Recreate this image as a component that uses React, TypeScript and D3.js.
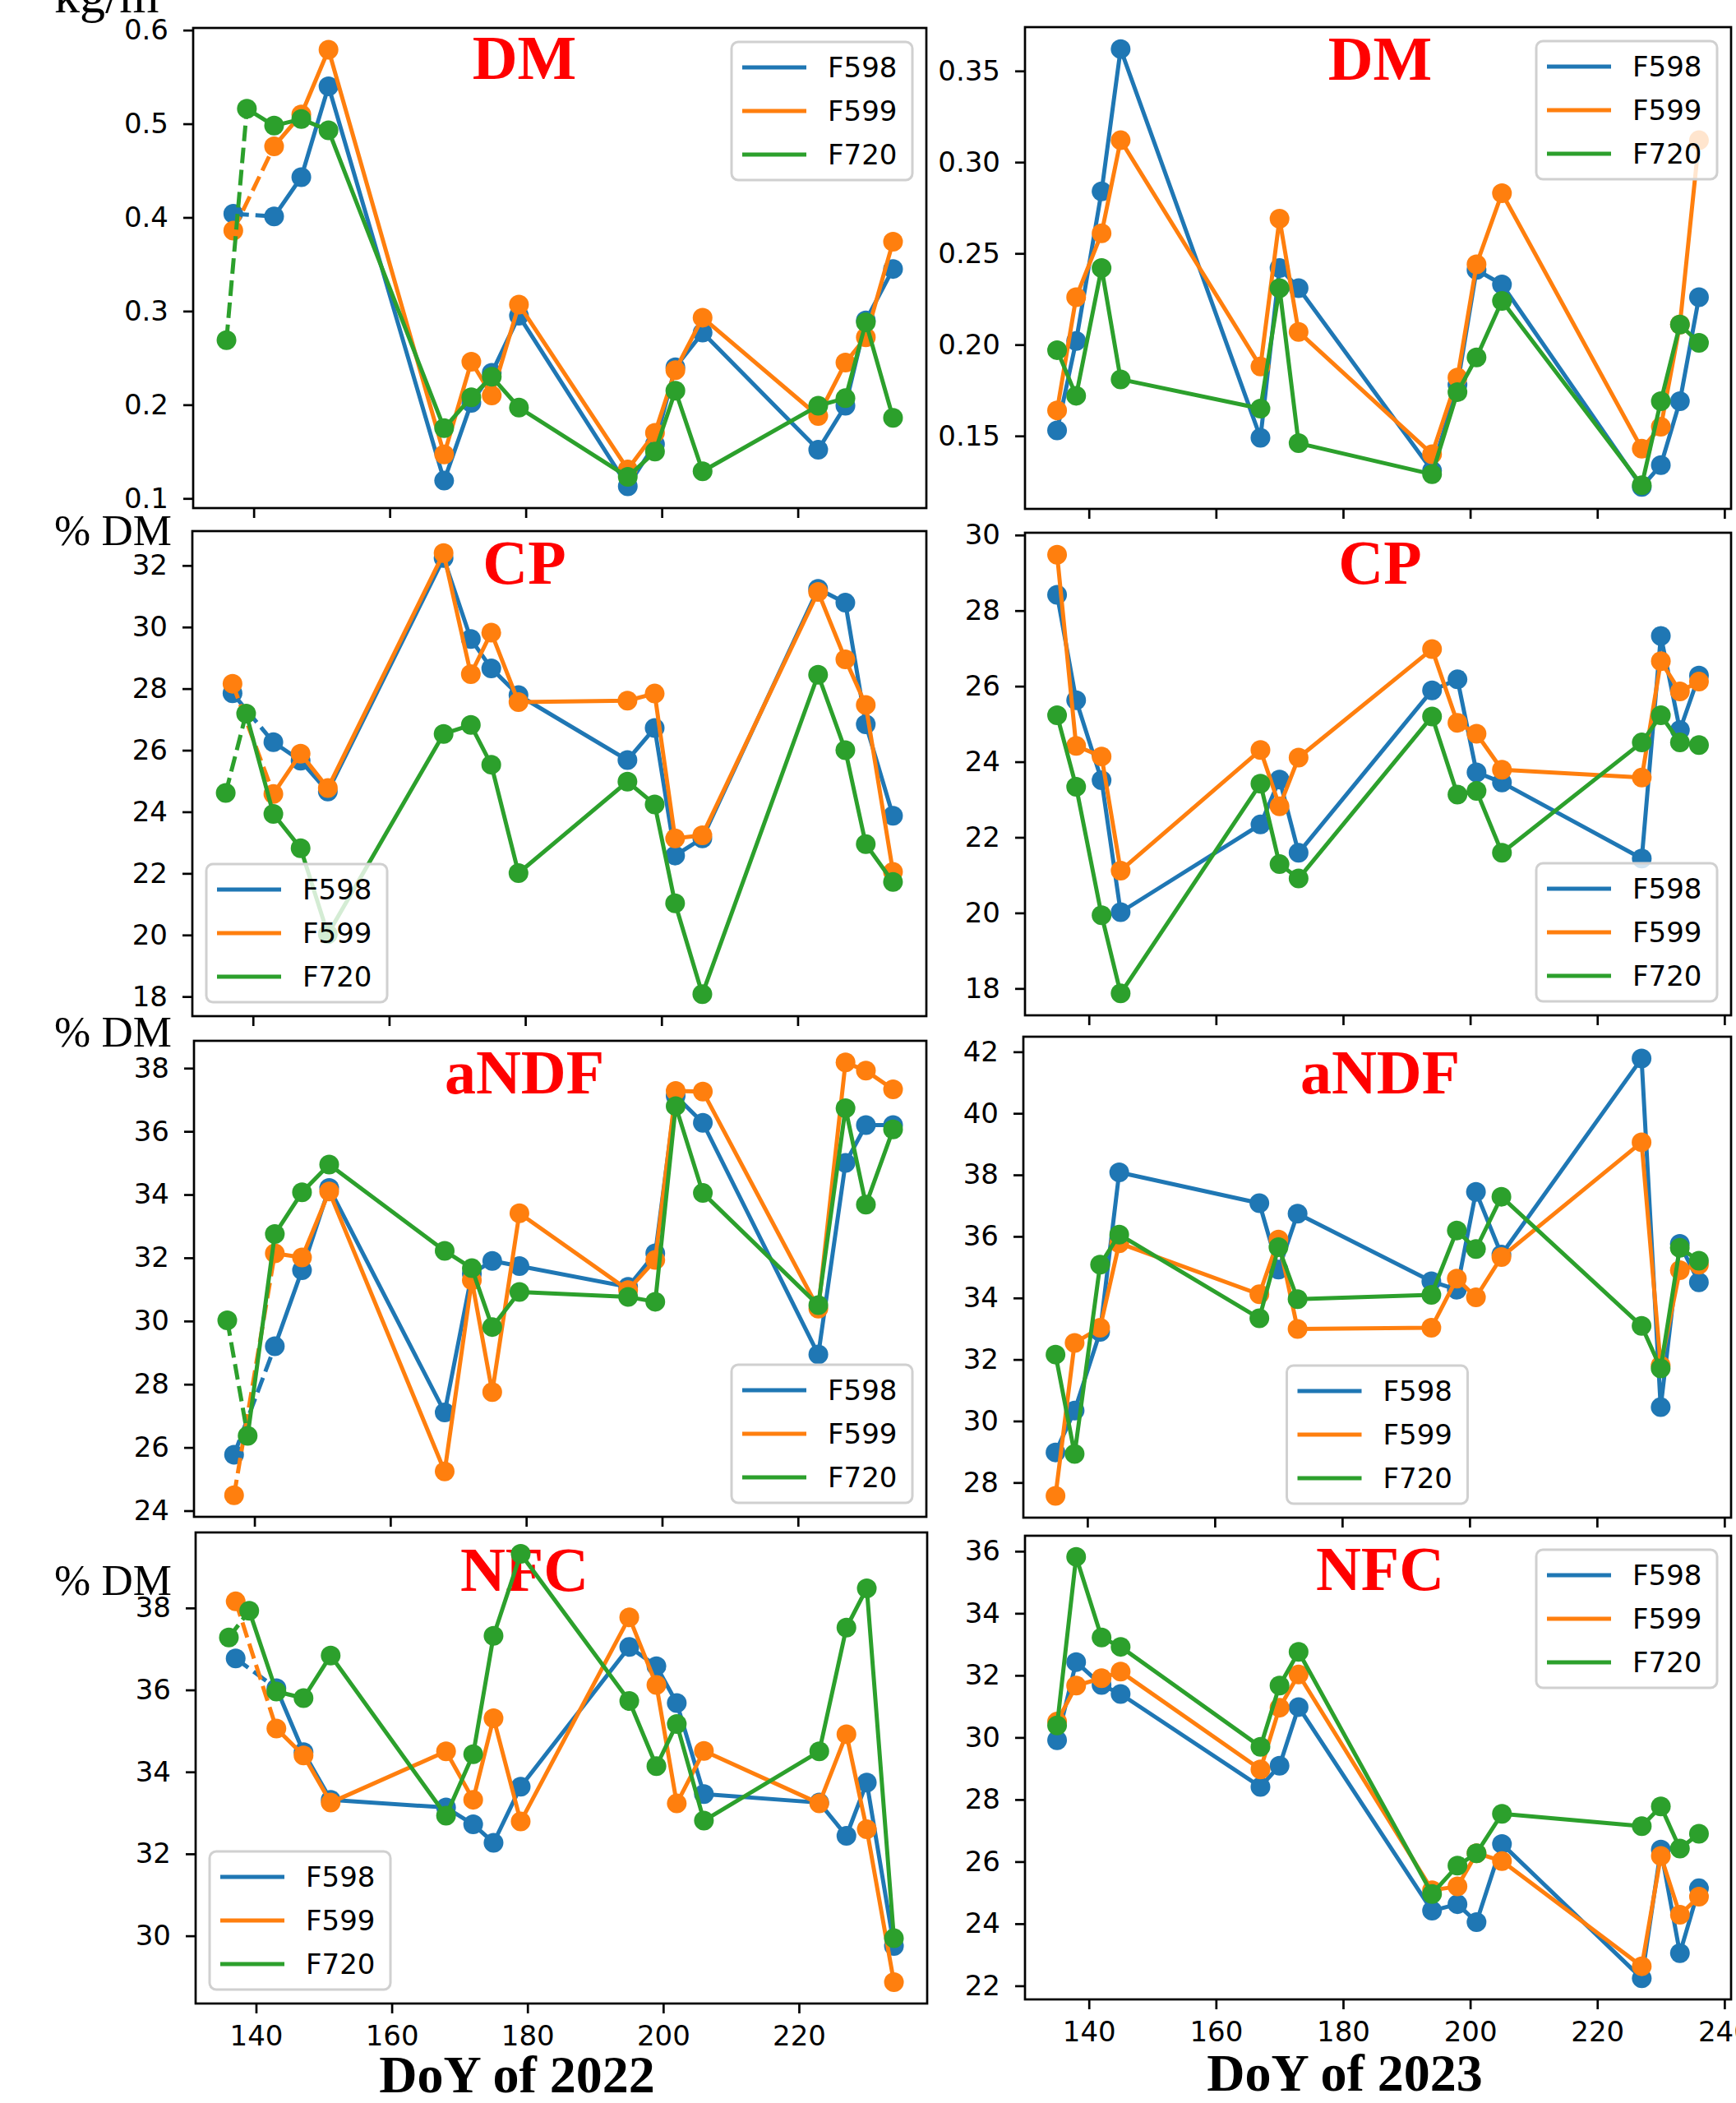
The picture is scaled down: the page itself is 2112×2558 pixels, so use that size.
import React, { useEffect, useRef } from 'react';
import * as d3 from 'd3';

// sampling days (DoY)
const days2022 = [137, 143, 147, 151, 168, 172, 175, 179, 195, 199, 202, 206, 223, 227, 230, 234];
const days2022F720 = [136, 139, 143, 147, 151, 168, 172, 175, 179, 195, 199, 202, 206, 223, 227, 230, 234];
const days2023 = [135, 138, 142, 145, 167, 170, 173, 194, 198, 201, 205, 227, 230, 233, 236];

const seriesNames = ['F598', 'F599', 'F720'];
const colors = ['#1f77b4', '#ff7f0e', '#2ca02c'];

// DM, kg/m3
const dm22F598 = [0.404, 0.401, 0.443, 0.540, 0.119, 0.202, 0.234, 0.295, 0.113, 0.158, 0.240, 0.277, 0.152, 0.199, 0.290, 0.345];
const dm22F599 = [0.386, 0.476, 0.510, 0.579, 0.147, 0.246, 0.210, 0.307, 0.131, 0.170, 0.237, 0.293, 0.188, 0.245, 0.272, 0.374];
const dm22F720 = [0.269, 0.516, 0.498, 0.505, 0.493, 0.175, 0.208, 0.230, 0.197, 0.123, 0.150, 0.215, 0.129, 0.199, 0.207, 0.288, 0.186];
const dm23F598 = [0.153, 0.202, 0.284, 0.362, 0.149, 0.242, 0.231, 0.131, 0.178, 0.241, 0.233, 0.122, 0.134, 0.169, 0.226];
const dm23F599 = [0.164, 0.226, 0.261, 0.312, 0.188, 0.269, 0.207, 0.140, 0.182, 0.244, 0.283, 0.143, 0.155, 0.211, 0.312];
const dm23F720 = [0.197, 0.172, 0.242, 0.181, 0.165, 0.231, 0.146, 0.129, 0.174, 0.193, 0.224, 0.123, 0.169, 0.211, 0.201];

// CP, % DM
const cp22F598 = [27.85, 26.26, 25.66, 24.66, 32.24, 29.61, 28.66, 27.79, 25.68, 26.72, 22.58, 23.14, 31.24, 30.79, 26.84, 23.87];
const cp22F599 = [28.16, 24.58, 25.89, 24.77, 32.40, 28.47, 29.82, 27.56, 27.61, 27.84, 23.14, 23.24, 31.14, 28.95, 27.47, 22.05];
const cp22F720 = [24.61, 27.19, 23.93, 22.82, 20.03, 26.53, 26.82, 25.53, 22.01, 24.98, 24.24, 21.03, 18.08, 28.45, 26.00, 22.95, 21.72];
const cp23F598 = [28.42, 25.63, 23.51, 20.02, 22.34, 23.53, 21.59, 25.89, 26.18, 23.72, 23.45, 21.44, 27.33, 24.84, 26.28];
const cp23F599 = [29.48, 24.42, 24.14, 21.12, 24.31, 22.82, 24.11, 26.98, 25.03, 24.74, 23.79, 23.58, 26.66, 25.86, 26.12];
const cp23F720 = [25.23, 23.34, 19.94, 17.87, 23.42, 21.29, 20.91, 25.20, 23.13, 23.23, 21.59, 24.51, 25.23, 24.51, 24.44];

// aNDF, % DM
const ndf22F598 = [25.77, 29.20, 31.61, 34.21, 27.11, 31.50, 31.90, 31.74, 31.08, 32.14, 37.12, 36.27, 28.94, 35.00, 36.20, 36.20];
const ndf22F599 = [24.49, 32.14, 32.01, 34.10, 25.24, 31.29, 27.75, 33.41, 30.98, 31.93, 37.28, 37.26, 30.39, 38.18, 37.92, 37.33];
const ndf22F720 = [30.02, 26.37, 32.75, 34.07, 34.95, 32.22, 31.67, 29.81, 30.92, 30.76, 30.61, 36.80, 34.05, 30.50, 36.73, 33.68, 36.06];
const ndf23F598 = [28.98, 30.34, 32.90, 38.08, 37.08, 34.92, 36.74, 34.54, 34.27, 37.45, 35.41, 41.78, 30.45, 35.76, 34.51];
const ndf23F599 = [27.57, 32.54, 33.03, 35.78, 34.12, 35.90, 32.99, 33.03, 34.63, 34.02, 35.33, 39.06, 31.80, 34.90, 35.08];
const ndf23F720 = [32.16, 28.93, 35.08, 36.06, 33.34, 35.65, 33.96, 34.10, 36.19, 35.59, 37.29, 33.09, 31.71, 35.63, 35.21];

// NFC, % DM
const nfc22F598 = [36.77, 36.04, 34.48, 33.32, 33.13, 32.72, 32.27, 33.64, 37.05, 36.58, 35.68, 33.46, 33.25, 32.44, 33.74, 29.75];
const nfc22F599 = [38.16, 35.06, 34.40, 33.25, 34.50, 33.32, 35.31, 32.79, 37.77, 36.12, 33.23, 34.51, 33.23, 34.92, 32.60, 28.87];
const nfc22F720 = [37.28, 37.93, 35.96, 35.80, 36.84, 32.93, 34.43, 37.32, 39.32, 35.73, 34.14, 35.17, 32.81, 34.50, 37.52, 38.48, 29.94];
const nfc23F598 = [29.91, 32.43, 31.69, 31.40, 28.41, 29.09, 30.98, 24.42, 24.63, 24.05, 26.57, 22.24, 26.39, 23.05, 25.14];
const nfc23F599 = [30.51, 31.67, 31.91, 32.12, 28.97, 30.96, 32.03, 25.08, 25.20, 26.27, 26.02, 22.63, 26.18, 24.29, 24.87];
const nfc23F720 = [30.39, 35.82, 33.22, 32.92, 29.70, 31.67, 32.76, 24.96, 25.87, 26.27, 27.54, 27.14, 27.78, 26.42, 26.90];

// tick labels
const xTicks2022 = [140, 160, 180, 200, 220];
const xTicks2023 = [140, 160, 180, 200, 220, 240];
const yTicksDM22 = [0.1, 0.2, 0.3, 0.4, 0.5, 0.6];
const yTicksDM23 = [0.15, 0.20, 0.25, 0.30, 0.35];
const yTicksCP22 = [18, 20, 22, 24, 26, 28, 30, 32];
const yTicksCP23 = [18, 20, 22, 24, 26, 28, 30];
const yTicksNDF22 = [24, 26, 28, 30, 32, 34, 36, 38];
const yTicksNDF23 = [28, 30, 32, 34, 36, 38, 40, 42];
const yTicksNFC22 = [30, 32, 34, 36, 38];
const yTicksNFC23 = [22, 24, 26, 28, 30, 32, 34, 36];

// panel boxes [left, top, right, bottom] in px (subplots pasted one by one)
const panels = [
  { title: 'DM', col: 0, box: [235, 34, 1127, 618], vals: [dm22F598, dm22F599, dm22F720], yt: yTicksDM22, fmt: '.1f', legend: 'ur', tb: 62 },
  { title: 'DM', col: 1, box: [1247, 33, 2106, 619], vals: [dm23F598, dm23F599, dm23F720], yt: yTicksDM23, fmt: '.2f', legend: 'ur', tb: 64 },
  { title: 'CP', col: 0, box: [234, 646, 1127, 1236], vals: [cp22F598, cp22F599, cp22F720], yt: yTicksCP22, fmt: 'd', legend: 'll', tb: 64 },
  { title: 'CP', col: 1, box: [1247, 648, 2106, 1235], vals: [cp23F598, cp23F599, cp23F720], yt: yTicksCP23, fmt: 'd', legend: 'lr', tb: 62 },
  { title: 'aNDF', col: 0, box: [236, 1266, 1127, 1845], vals: [ndf22F598, ndf22F599, ndf22F720], yt: yTicksNDF22, fmt: 'd', legend: 'lr', tb: 64 },
  { title: 'aNDF', col: 1, box: [1245, 1261, 2106, 1846], vals: [ndf23F598, ndf23F599, ndf23F720], yt: yTicksNDF23, fmt: 'd', legend: 'lc', tb: 69 },
  { title: 'NFC', col: 0, box: [238, 1864, 1128, 2437], vals: [nfc22F598, nfc22F599, nfc22F720], yt: yTicksNFC22, fmt: 'd', legend: 'll', tb: 71 },
  { title: 'NFC', col: 1, box: [1247, 1868, 2106, 2432], vals: [nfc23F598, nfc23F599, nfc23F720], yt: yTicksNFC23, fmt: 'd', legend: 'ur', tb: 66 },
];

const titleX = [638, 1679];
const xTitles = [{ text: 'DoY of 2022', x: 629, y: 2545 }, { text: 'DoY of 2023', x: 1636, y: 2543 }];
const unitLabels = [{ text: 'kg/m³', y: 15, size: 62 }, { text: '% DM', y: 663, size: 53 }, { text: '% DM', y: 1273, size: 53 }, { text: '% DM', y: 1940, size: 53 }];

const W = 2112, H = 2558;
const sans = 'DejaVu Sans, sans-serif';
const serif = 'Liberation Serif, Times New Roman, serif';

export default function App() {
  const ref = useRef<SVGSVGElement>(null);

  useEffect(() => {
    document.body.style.margin = '0';
    const svg = d3.select(ref.current);
    svg.selectAll('*').remove();
    svg.append('rect').attr('width', W).attr('height', H).attr('fill', '#fff');

    panels.forEach((p, i) => {
      const [x0, y0, x1, y1] = p.box;
      const dates = p.col === 0 ? [days2022, days2022, days2022F720] : [days2023, days2023, days2023];
      const allX = dates.flat();
      const allY = p.vals.flat();
      //matplotlib 5% margins
      const [xa, xb] = d3.extent(allX) as [number, number];
      const [ya, yb] = d3.extent(allY) as [number, number];
      const x = d3.scaleLinear().domain([xa - (xb - xa) * 0.05, xb + (xb - xa) * 0.05]).range([x0, x1]);
      const y = d3.scaleLinear().domain([ya - (yb - ya) * 0.05, yb + (yb - ya) * 0.05]).range([y1, y0]);

      const g = svg.append('g');
      const clipId = 'clip' + i;
      g.append('clipPath').attr('id', clipId)
        .append('rect').attr('x', x0).attr('y', y0).attr('width', x1 - x0).attr('height', y1 - y0);

      // title (lines go over it)
      g.append('text')
        .attr('x', titleX[p.col]).attr('y', y0 + p.tb)
        .attr('text-anchor', 'middle')
        .attr('font-family', serif).attr('font-weight', 'bold').attr('font-size', 76)
        .attr('fill', '#ff0000')
        .text(p.title);

      const plot = g.append('g').attr('clip-path', `url(#${clipId})`);
      const line = d3.line<[number, number]>().x(d => x(d[0])).y(d => y(d[1]));

      p.vals.forEach((vals, s) => {
        const pts: [number, number][] = vals.map((v, k) => [dates[s][k], v]);
        if (p.col === 0) {
          // first visit joined with a dashed segment
          plot.append('path').attr('d', line(pts.slice(0, 2)))
            .attr('fill', 'none').attr('stroke', colors[s]).attr('stroke-width', 5)
            .attr('stroke-dasharray', '19,8');
          plot.append('path').attr('d', line(pts.slice(1)))
            .attr('fill', 'none').attr('stroke', colors[s]).attr('stroke-width', 5)
            .attr('stroke-linejoin', 'round');
        } else {
          plot.append('path').attr('d', line(pts))
            .attr('fill', 'none').attr('stroke', colors[s]).attr('stroke-width', 5)
            .attr('stroke-linejoin', 'round');
        }
        plot.selectAll(null).data(pts).enter().append('circle')
          .attr('cx', d => x(d[0])).attr('cy', d => y(d[1])).attr('r', 12)
          .attr('fill', colors[s]);
      });

      // axes
      const yAxis = d3.axisLeft(y).tickValues(p.yt).tickSize(12).tickPadding(18)
        .tickFormat(d3.format(p.fmt) as any);
      const ya_ = g.append('g').attr('transform', `translate(${x0},0)`).call(yAxis);
      const lastRow = i >= 6;
      const xAxis = d3.axisBottom(x).tickValues(p.col === 0 ? xTicks2022 : xTicks2023).tickSize(12).tickPadding(15)
        .tickFormat(lastRow ? (d3.format('d') as any) : () => '');
      const xa_ = g.append('g').attr('transform', `translate(0,${y1})`).call(xAxis);
      [ya_, xa_].forEach(a => {
        a.select('.domain').remove();
        a.attr('font-family', sans).attr('font-size', 34);
        a.selectAll('line').attr('stroke', '#000').attr('stroke-width', 2.7);
        a.selectAll('text').attr('fill', '#000');
      });

      g.append('rect').attr('x', x0).attr('y', y0).attr('width', x1 - x0).attr('height', y1 - y0)
        .attr('fill', 'none').attr('stroke', '#000').attr('stroke-width', 2.7);

      // legend
      const LW = 220, LH = 168, pad = 17;
      let lx = x1 - pad - LW, ly = y0 + pad;
      if (p.legend === 'll') { lx = x0 + pad; ly = y1 - pad - LH; }
      if (p.legend === 'lr') { lx = x1 - pad - LW; ly = y1 - pad - LH; }
      if (p.legend === 'lc') { lx = (x0 + x1) / 2 - LW / 2; ly = y1 - pad - LH; }
      const lg = g.append('g').attr('transform', `translate(${lx},${ly})`);
      lg.append('rect').attr('width', LW).attr('height', LH).attr('rx', 8)
        .attr('fill', '#fff').attr('fill-opacity', 0.8)
        .attr('stroke', '#d0d0d0').attr('stroke-width', 3);
      seriesNames.forEach((name, s) => {
        const cy = 31 + s * 53;
        lg.append('line').attr('x1', 13).attr('x2', 91).attr('y1', cy).attr('y2', cy)
          .attr('stroke', colors[s]).attr('stroke-width', 5);
        lg.append('text').attr('x', 117).attr('y', cy + 12)
          .attr('font-family', sans).attr('font-size', 34).attr('fill', '#000')
          .text(name);
      });
    });

    unitLabels.forEach(u => {
      svg.append('text').attr('x', 66).attr('y', u.y)
        .attr('font-family', serif).attr('font-size', u.size).attr('fill', '#000')
        .text(u.text);
    });

    xTitles.forEach(t => {
      svg.append('text').attr('x', t.x).attr('y', t.y).attr('text-anchor', 'middle')
        .attr('font-family', serif).attr('font-weight', 'bold').attr('font-size', 64).attr('fill', '#000')
        .text(t.text);
    });
  }, []);

  return (
    <svg ref={ref} width={W} height={H} style={{ position: 'absolute', left: 0, top: 0, display: 'block' }} />
  );
}
